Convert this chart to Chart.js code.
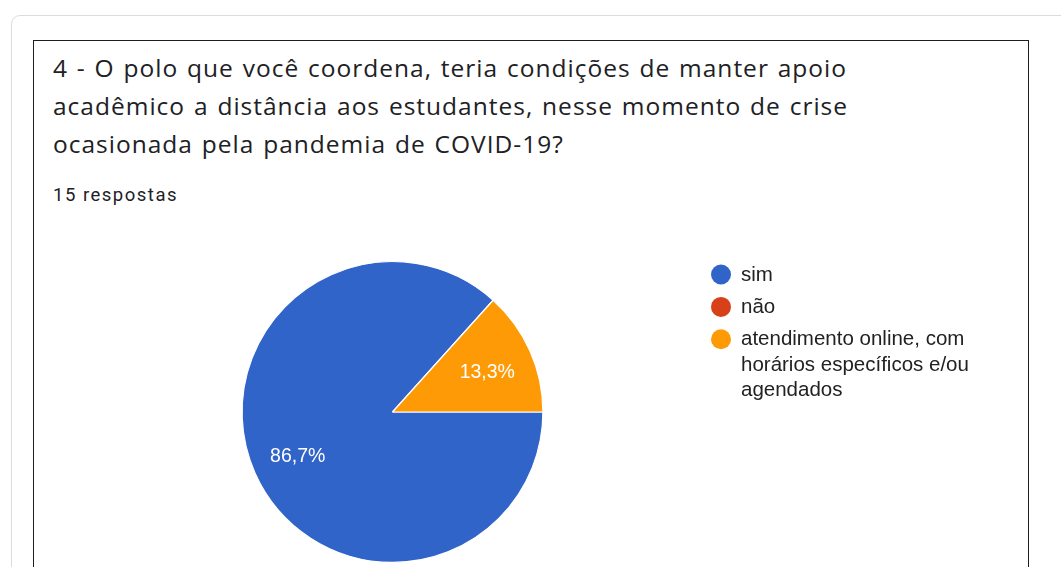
<!DOCTYPE html>
<html lang="pt-BR">
<head>
<meta charset="utf-8">
<title>Respostas - pergunta 4</title>
<script src="https://cdn.jsdelivr.net/npm/chart.js@4/dist/chart.umd.min.js"></script>
<style>
  html, body { margin: 0; padding: 0; background: #fff; }
  body { width: 1061px; height: 567px; position: relative; overflow: hidden; }
  .card {
    position: absolute; left: 11px; top: 15px; width: 1100px; height: 600px;
    border: 1px solid #dcdcdc; border-radius: 9px; box-sizing: border-box;
  }
  .panel {
    position: absolute; left: 33px; top: 40px; width: 996px; height: 600px;
    border: 1.5px solid #1e1e1e; box-sizing: border-box; border-bottom: none;
  }
  .question {
    position: absolute; left: 53px; top: 49px; margin: 0;
    font-family: "Open Sans", sans-serif; font-size: 24.5px; font-weight: 400;
    line-height: 38px; color: #202124; letter-spacing: 1px; word-spacing: 1.5px;
    white-space: nowrap;
  }
  .count {
    position: absolute; left: 53px; top: 184px; margin: 0;
    font-family: Roboto, sans-serif; font-size: 18.5px; line-height: 22px; color: #202124;
    letter-spacing: 1.5px; white-space: nowrap;
  }
  #chartBox { position: absolute; left: 34px; top: 210px; width: 994px; height: 357px; }
</style>
</head>
<body>
<div class="card"></div>
<div class="panel"></div>
<p class="question">4 - O polo que você coordena, teria condições de manter apoio<br>acadêmico a distância aos estudantes, nesse momento de crise<br>ocasionada pela pandemia de COVID-19?</p>
<p class="count">15 respostas</p>
<div id="chartBox"><canvas id="pie" width="994" height="357"></canvas></div>

<script>
// Answer options (multi-line labels are arrays of lines)
const categories = [
  'sim',
  'não',
  ['atendimento online, com', 'horários específicos e/ou', 'agendados']
];
// Number of answers per option (15 in total)
const answerCounts = [13, 0, 2];
const sliceColors = ['#3164c8', '#d8401a', '#fd9a05'];

const total = answerCounts.reduce((a, b) => a + b, 0);
const sliceFont = '19.5px "Liberation Sans", Arial, sans-serif';
const legendFont = '20.5px "Liberation Sans", Arial, sans-serif';

// Percent labels inside the slices, Brazilian decimal comma
const sliceLabels = {
  id: 'sliceLabels',
  afterDatasetsDraw(chart) {
    const ctx = chart.ctx;
    const meta = chart.getDatasetMeta(0);
    ctx.save();
    ctx.font = sliceFont;
    ctx.fillStyle = '#ffffff';
    ctx.textAlign = 'center';
    ctx.textBaseline = 'middle';
    meta.data.forEach((arc, i) => {
      const v = answerCounts[i];
      if (!v) return;
      const { x, y, startAngle, endAngle, outerRadius } = arc.getProps(['x', 'y', 'startAngle', 'endAngle', 'outerRadius'], true);
      const mid = (startAngle + endAngle) / 2;
      const r = outerRadius * 0.69;
      const txt = (v / total * 100).toFixed(1).replace('.', ',') + '%';
      ctx.fillText(txt, x + Math.cos(mid) * r, y + Math.sin(mid) * r + 2.5);
    });
    ctx.restore();
  }
};

// Legend on the right with round markers and wrapped labels
const sideLegend = {
  id: 'sideLegend',
  afterDraw(chart) {
    const ctx = chart.ctx;
    const left = 687, top = 64.5, itemGap = 32.4, lineGap = 25.5;
    ctx.save();
    ctx.font = legendFont;
    ctx.textBaseline = 'alphabetic';
    ctx.textAlign = 'left';
    let y = top;
    categories.forEach((label, i) => {
      const lines = Array.isArray(label) ? label : [label];
      ctx.fillStyle = sliceColors[i];
      ctx.beginPath();
      ctx.arc(left, y, 10, 0, Math.PI * 2);
      ctx.fill();
      ctx.fillStyle = '#222222';
      lines.forEach((ln, k) => ctx.fillText(ln, left + 20, y + 6 + k * lineGap));
      y += itemGap + (lines.length - 1) * lineGap;
    });
    ctx.restore();
  }
};

new Chart(document.getElementById('pie'), {
  type: 'pie',
  data: {
    labels: categories,
    datasets: [{
      data: answerCounts,
      backgroundColor: sliceColors,
      borderColor: '#ffffff',
      borderWidth: 1.2
    }]
  },
  options: {
    responsive: false,
    animation: false,
    rotation: 90,
    layout: { padding: { left: 207, right: 484, top: 51, bottom: 4 } },
    plugins: {
      legend: { display: false },
      tooltip: { enabled: false }
    }
  },
  plugins: [sliceLabels, sideLegend]
});
</script>
</body>
</html>
